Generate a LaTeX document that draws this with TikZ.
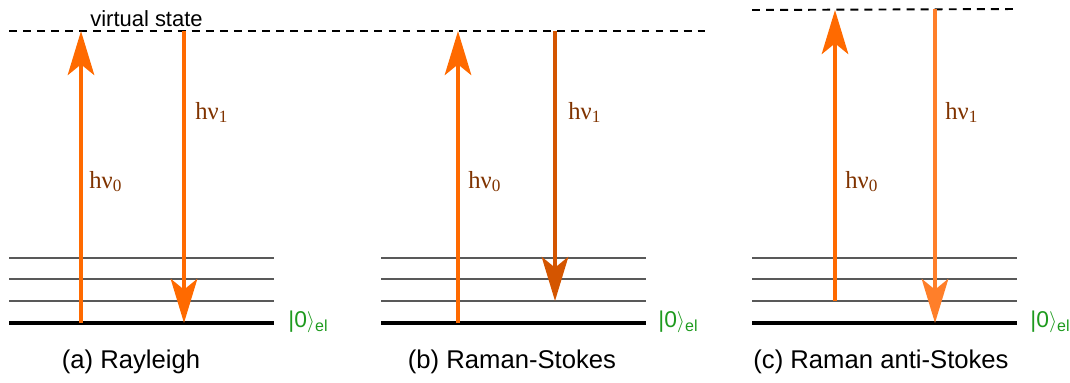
\documentclass[tikz,border=0pt]{standalone}
\usepackage{fontspec}
\setmainfont{Liberation Sans}
\newfontfamily\hvfont{Liberation Serif}
\usetikzlibrary{positioning,arrows.meta}
\definecolor{photonorange}{HTML}{FF6A00}
\definecolor{stokes}{HTML}{D45500}
\definecolor{antistokes}{HTML}{FF7F2A}
\definecolor{hvbrown}{HTML}{803300}
\definecolor{elgreen}{HTML}{1E9A1E}

\begin{document}
\begin{tikzpicture}[x=0.02cm, y=-0.02cm,
	level/.style={draw=black!65, line width=1.1pt},
	ground/.style={draw=black, line width=2.5pt},
	virtual/.style={draw=black, line width=1.1pt, dash pattern=on 4.5pt off 3.5pt},
	photon/.style={line width=2.8pt, photonorange, -{Stealth[length=25pt, width=15pt, inset=6pt]}},
	hv/.style={font=\hvfont\fontsize{14}{16}\selectfont, text=hvbrown, anchor=base west, inner sep=0pt},
	ket/.style={font=\fontsize{13}{15}\selectfont, text=elgreen, anchor=base west, inner sep=0pt},
	caption/.style={font=\fontsize{14.6}{17}\selectfont, anchor=base, inner sep=0pt}]
	
	\useasboundingbox (0,0) rectangle (1070,382);
	
	% Levels of the three panels
	\foreach \x/\p in {9/a, 381/b, 752/c} {
		\foreach \y in {258,279,301}
			\draw[level] (\x,\y) -- ++(265,0);
		\coordinate (g\p-l) at (\x,323);
		\coordinate (g\p-r) at (\x+265,323);
		\draw[ground] (g\p-l) -- (g\p-r);
	}
	
	% Virtual states
	\coordinate (v1-l) at (9,31);
	\coordinate (v1-r) at (705,31);
	\coordinate (v2-l) at (752,10);
	\coordinate (v2-r) at (1017,9);
	\draw[virtual] (v1-l) -- (v1-r);
	\draw[virtual] (v2-l) -- (v2-r);
	\node[anchor=base west, inner sep=0pt, font=\fontsize{12.5}{14}\selectfont] (vs) at (90,26) {virtual state};
	
	% Ends of the photons
	\coordinate (a0) at (81,323);   \coordinate (a0t) at (81,31);
	\coordinate (a1) at (184,31);   \coordinate (a1t) at (184,323);
	\coordinate (b0) at (458,323);  \coordinate (b0t) at (458,31);
	\coordinate (b1) at (555,31);   \coordinate (b1t) at (555,301);
	\coordinate (c0) at (835,301);  \coordinate (c0t) at (835,10);
	\coordinate (c1) at (935,9);    \coordinate (c1t) at (935,323);
	
	% Photons
	\draw[photon] (a0) -- (a0t);
	\draw[photon] (a1) -- (a1t);
	\draw[photon] (b0) -- (b0t);
	\draw[photon, stokes] (b1) -- (b1t);
	\draw[photon] (c0) -- (c0t);
	\draw[photon, antistokes] (c1) -- (c1t);
	
	% Labels
	\node[hv] (la0) at (89,188) {hν\textsubscript{0}};
	\node[hv] (la1) at (195,119) {hν\textsubscript{1}};
	\node[hv] (lb0) at (468,188) {hν\textsubscript{0}};
	\node[hv] (lb1) at (568,119) {hν\textsubscript{1}};
	\node[hv] (lc0) at (845,188) {hν\textsubscript{0}};
	\node[hv] (lc1) at (945,119) {hν\textsubscript{1}};
	
	\node[ket] (ka) at (288,327) {|0$\rangle$\textsubscript{el}};
	\node[ket] (kb) at (658,327) {|0$\rangle$\textsubscript{el}};
	\node[ket] (kc) at (1030,327) {|0$\rangle$\textsubscript{el}};
	
	\node[caption] (cap-a) at (131,368) {(a) Rayleigh};
	\node[caption] (cap-b) at (512,368) {(b) Raman-Stokes};
	\node[caption] (cap-c) at (881,368) {(c) Raman anti-Stokes};
	
\end{tikzpicture}
\end{document}
